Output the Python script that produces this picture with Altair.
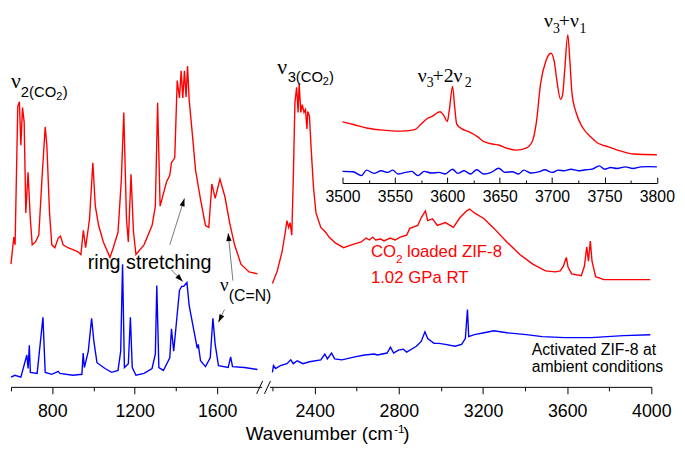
import math
import altair as alt
import pandas as pd

# ----------------------------- data -----------------------------
# wavenumber (cm-1) and intensity (arbitrary units, offset traces)
red_left_wn = [600, 614, 620, 633, 641, 648, 656, 664, 672, 683,
               693, 703, 719, 735, 750, 766, 774, 787, 798, 813,
               829, 840, 853, 876, 923, 939, 951, 962, 981, 997,
               1009, 1025, 1048, 1080, 1096, 1119, 1135, 1147, 1160, 1169,
               1182, 1194, 1206, 1245, 1284, 1300, 1311, 1323, 1339, 1354,
               1370, 1378, 1394, 1406, 1417, 1425, 1433, 1441, 1449, 1456,
               1464, 1480, 1495, 1519, 1543, 1559, 1574, 1590, 1613, 1637,
               1660, 1684, 1715, 1754, 1795]
red_left_int = [127, 155, 147, 290, 295, 250, 289, 274, 180, 222,
                177, 147, 150, 157, 214, 269, 250, 180, 147, 144,
                154, 156, 147, 144, 140, 137, 162, 144, 174, 232,
                187, 167, 150, 134, 144, 160, 214, 284, 174, 150,
                220, 160, 137, 147, 167, 187, 294, 187, 200, 212,
                219, 232, 237, 317, 299, 327, 299, 327, 300, 332,
                297, 260, 224, 194, 167, 165, 210, 195, 215, 197,
                170, 147, 127, 119, 117]

blue_left_wn = [600, 619, 648, 677, 683, 689, 694, 727, 755, 766,
                798, 829, 837, 900, 944, 950, 956, 975, 991, 1002,
                1017, 1056, 1088, 1119, 1132, 1141, 1150, 1169, 1179, 1188,
                1206, 1245, 1284, 1300, 1307, 1317, 1339, 1370, 1378, 1389,
                1401, 1417, 1428, 1437, 1453, 1464, 1488, 1503, 1508, 1519,
                1543, 1566, 1579, 1590, 1606, 1653, 1665, 1674, 1731, 1795]
blue_left_int = [10, 12, 10, 33, 19, 43, 15, 14, 72, 15,
                 13, 16, 14, 12, 13, 35, 20, 37, 71, 47,
                 25, 19, 15, 17, 37, 127, 20, 24, 72, 20,
                 12, 14, 19, 34, 105, 20, 17, 30, 60, 37,
                 64, 100, 104, 104, 108, 84, 57, 40, 44, 27,
                 21, 30, 71, 44, 22, 20, 31, 21, 20, 18]

red_right_wn = [2199, 2222, 2245, 2260, 2268, 2276, 2283, 2291, 2298, 2306,
                2314, 2321, 2326, 2334, 2341, 2349, 2356, 2363, 2367, 2375,
                2383, 2394, 2406, 2429, 2452, 2468, 2498, 2537, 2575, 2621,
                2644, 2660, 2675, 2690, 2713, 2729, 2759, 2782, 2806, 2837,
                2852, 2890, 2906, 2926, 2937, 2960, 2983, 3021, 3059, 3090,
                3121, 3136, 3159, 3205, 3252, 3313, 3375, 3436, 3497, 3544,
                3567, 3582, 3596, 3604, 3621, 3667, 3682, 3693, 3701, 3710,
                3718, 3735, 3774, 3867, 3995]
red_right_int = [107, 120, 140, 160, 172, 165, 170, 157, 214, 294,
                 310, 284, 314, 284, 292, 284, 287, 267, 285, 280,
                 247, 207, 180, 165, 160, 155, 149, 144, 147, 150,
                 154, 152, 155, 152, 153, 151, 154, 152, 155, 157,
                 164, 167, 175, 182, 172, 174, 167, 170, 165, 175,
                 182, 184, 180, 174, 164, 150, 137, 127, 120, 119,
                 120, 125, 134, 124, 117, 115, 125, 145, 130, 151,
                 130, 114, 111, 111, 111]

blue_right_wn = [2199, 2204, 2214, 2237, 2268, 2286, 2298, 2317, 2344, 2375,
                 2429, 2448, 2460, 2480, 2495, 2529, 2591, 2637, 2683, 2698,
                 2744, 2760, 2775, 2798, 2821, 2837, 2883, 2906, 2924, 2937,
                 2967, 2990, 3021, 3067, 3098, 3116, 3126, 3132, 3159, 3205,
                 3252, 3313, 3405, 3482, 3590, 3713, 3867, 3995]
blue_right_int = [15, 22, 19, 22, 24, 28, 24, 27, 24, 26,
                  28, 34, 29, 35, 29, 28, 31, 33, 34, 33,
                  35, 41, 35, 38, 39, 36, 42, 47, 57, 50,
                  45, 45, 44, 42, 44, 50, 80, 52, 54, 56,
                  58, 56, 54, 52, 51, 51, 53, 54]

inset_red_wn = [3500, 3512, 3524, 3536, 3555, 3569, 3575, 3580, 3586, 3593,
                3597, 3600, 3602, 3605, 3607, 3609, 3614, 3620, 3629, 3635,
                3645, 3649, 3655, 3666, 3675, 3681, 3685, 3689, 3694, 3699,
                3702, 3705, 3708, 3710, 3712, 3715, 3717, 3719, 3723, 3729,
                3737, 3743, 3748, 3753, 3765, 3778, 3800]
inset_red_int = [63.3, 60, 56.7, 55, 53.7, 55.3, 61, 66, 69.3, 73.7,
                 69.3, 63.7, 76, 100, 79.3, 61, 56, 53.3, 47.7, 42.7,
                 40, 39.3, 36.7, 34, 36, 42.7, 62.7, 102.7, 126, 134.3,
                 126, 102.7, 86.7, 91, 116, 153.3, 126, 92.7, 72.7, 57.7,
                 47.7, 41.7, 39.3, 37.7, 33.3, 30, 29.3]

inset_blue_wn = [3500, 3510, 3518, 3523, 3530, 3537, 3543, 3548, 3553, 3560,
                 3566, 3572, 3578, 3585, 3592, 3598, 3605, 3610, 3616, 3622,
                 3628, 3635, 3642, 3649, 3655, 3662, 3668, 3673, 3680, 3688,
                 3693, 3700, 3706, 3712, 3718, 3725, 3732, 3738, 3745, 3750,
                 3756, 3762, 3770, 3777, 3785, 3792, 3800]
inset_blue_int = [12, 11.7, 7.7, 13.3, 10, 12.7, 11, 13.3, 9.3, 11,
                  12, 7.7, 12, 10.3, 11, 9.3, 14.3, 10, 12.7, 9.3,
                  13.7, 9.3, 11, 15.3, 11, 11.7, 9.3, 13.3, 10.3, 11.7,
                  13.7, 11, 13.3, 12.7, 14.3, 12.7, 13.7, 14.3, 17.7, 14.3,
                  16, 15, 16.7, 15, 16.7, 17, 16.7]

left_ticks = [600, 800, 1000, 1200, 1400, 1600]
right_ticks = [2200, 2400, 2600, 2800, 3000, 3200, 3400, 3600, 3800, 4000]
inset_ticks = [3500, 3525, 3550, 3575, 3600, 3625, 3650, 3675, 3700, 3725, 3750, 3775, 3800]

# ----------------------------- layout / style -----------------------------
SANS = "Liberation Sans"
SERIF = "Liberation Serif"
RED = "#ff0000"
BLUE = "#0000ff"

WL, WR, H, GAP = 254, 387, 379, 8
XL_DOM = [600, 1815]
XR_DOM = [2185, 4000]
Y_DOM = [0, 387]
INSET_DOM = [3500, 3800]
INSET_RANGE = [74, 392.6]
INSET_AXIS_Y = 172.4
INSET_Y_DOM = [0, 176]

SX_L = WL / (XL_DOM[1] - XL_DOM[0])
SY = H / (Y_DOM[1] - Y_DOM[0])


def main_axis(values):
    return alt.Axis(
        orient="bottom", values=values, format="d",
        labelExpr="datum.value % 400 === 0 ? datum.label : ''",
        tickSize={"condition": {"test": "datum.value % 400 === 0", "value": 7}, "value": 4},
        tickColor="black", tickWidth=1, domainColor="black", domainWidth=1,
        labelFont=SANS, labelFontSize=18, labelColor="black", labelPadding=23,
        labelBaseline="alphabetic", labelFlush=False, labelOverlap=False,
        grid=False, title=None)


inset_axis = alt.Axis(
    orient="top", offset=-INSET_AXIS_Y, values=inset_ticks, format="d",
    labelExpr="datum.value % 50 === 0 ? datum.label : ''",
    tickSize={"condition": {"test": "datum.value % 50 === 0", "value": 6}, "value": 3},
    tickColor="black", tickWidth=1, domainColor="black", domainWidth=1,
    labelFont=SANS, labelFontSize=16, labelColor="black", labelPadding=-25,
    labelBaseline="alphabetic", labelFlush=False, labelOverlap=False,
    grid=False, title=None)

XL = alt.X("wn:Q", scale=alt.Scale(domain=XL_DOM, nice=False, zero=False), axis=main_axis(left_ticks))
XR = alt.X("wn:Q", scale=alt.Scale(domain=XR_DOM, nice=False, zero=False), axis=main_axis(right_ticks))
Y = alt.Y("I:Q", scale=alt.Scale(domain=Y_DOM, nice=False, zero=False), axis=None)
XI = alt.X("iw:Q", scale=alt.Scale(domain=INSET_DOM, range=INSET_RANGE, nice=False, zero=False), axis=inset_axis)
YI = alt.Y("J:Q", scale=alt.Scale(domain=INSET_Y_DOM, range=[INSET_AXIS_Y, 0], nice=False, zero=False), axis=None)


def line(wn, vals, color, x, y, xname="wn", yname="I", interp="linear"):
    d = pd.DataFrame({xname: wn, yname: vals})
    return alt.Chart(d).mark_line(color=color, strokeWidth=1.4, interpolate=interp).encode(x=x, y=y)


def seg(x, wn, inten, text, dx=0, dy=0, size=16, font=SANS, color="black", align="left"):
    d = pd.DataFrame({"wn": [wn], "I": [inten], "t": [text]})
    return alt.Chart(d).mark_text(
        align=align, baseline="alphabetic", dx=dx, dy=dy, fontSize=size,
        font=font, color=color).encode(x=x, y=Y, text="t:N")


# ----------------------------- left panel -----------------------------
left_layers = [
    line(red_left_wn, red_left_int, RED, XL, Y),
    line(blue_left_wn, blue_left_int, BLUE, XL, Y),
]

left_layers += [
    seg(XL, 600, 309, "ν", 0, 0, 22, SERIF),
    seg(XL, 600, 309, "2(CO", 10, 9, 15),
    seg(XL, 600, 309, "2", 46, 12, 11),
    seg(XL, 600, 309, ")", 52.5, 9, 15),
    seg(XL, 972, 122, "ring stretching", 0, 0, 20),
    seg(XL, 1613, 98.7, "ν", 0, 0, 19, SERIF),
    seg(XL, 1613, 98.7, "(C=N)", 9, 10, 16),
]

# annotation arrows: tail (wn, I) -> head (wn2, I2)
arrow_tail_wn = [1370, 1378, 1676, 1635]
arrow_tail_int = [147, 121, 110, 80]
arrow_head_wn = [1441, 1433, 1653, 1606]
arrow_head_int = [195, 109, 159, 67]
arr = pd.DataFrame({"wn": arrow_tail_wn, "I": arrow_tail_int,
                    "wn2": arrow_head_wn, "I2": arrow_head_int})
arr["ang"] = [
    (math.degrees(math.atan2((h - t) * SX_L, (hi - ti) * SY)) + 360) % 360
    for t, ti, h, hi in zip(arrow_tail_wn, arrow_tail_int, arrow_head_wn, arrow_head_int)
]
heads = arr[["wn2", "I2", "ang"]].rename(columns={"wn2": "wn", "I2": "I"})
left_layers += [
    alt.Chart(arr).mark_rule(color="#555555", strokeWidth=0.8).encode(
        x=XL, y=Y, x2=alt.X2("wn2:Q"), y2=alt.Y2("I2:Q")),
    alt.Chart(heads).mark_point(
        shape="M0,0L0.8,2.4L-0.8,2.4Z", filled=True, color="black", opacity=1, size=44,
        strokeWidth=0).encode(x=XL, y=Y, angle=alt.Angle("ang:Q", scale=None)),
]

# axis break marks
brk = pd.DataFrame({"wn": [1791, 1829], "I": [-7.2, -7.2], "wn2": [1820, 1858], "I2": [6.1, 6.1]})
left_layers.append(
    alt.Chart(brk).mark_rule(color="black", strokeWidth=1).encode(
        x=XL, y=Y, x2=alt.X2("wn2:Q"), y2=alt.Y2("I2:Q")))

left = alt.layer(*left_layers).properties(width=WL, height=H)

# ----------------------------- right panel -----------------------------
right_main_layers = [
    line(red_right_wn, red_right_int, RED, XR, Y),
    line(blue_right_wn, blue_right_int, BLUE, XR, Y),
    seg(XR, 2222, 324, "ν", 0, 0, 22, SERIF),
    seg(XR, 2222, 324, "3(CO", 10.5, 8, 15),
    seg(XR, 2222, 324, "2", 46, 11, 11),
    seg(XR, 2222, 324, ")", 52.5, 8, 15),
    seg(XR, 2890, 316, "ν", 0, 0, 20, SERIF),
    seg(XR, 2890, 316, "3", 9, 6, 14, SERIF),
    seg(XR, 2890, 316, "+2ν", 15, 0, 20, SERIF),
    seg(XR, 2890, 316, "2", 47.5, 6, 14, SERIF),
    seg(XR, 3490, 372, "ν", 0, 0, 20, SERIF),
    seg(XR, 3490, 372, "3", 9, 6, 14, SERIF),
    seg(XR, 3490, 372, "+ν", 15, 0, 20, SERIF),
    seg(XR, 3490, 372, "1", 36, 6, 14, SERIF),
    seg(XR, 2667, 134, "CO", 0, 0, 17, SANS, RED),
    seg(XR, 2667, 134, "2", 25.5, 6, 12, SANS, RED),
    seg(XR, 2667, 134, "loaded ZIF-8", 36.5, 0, 17, SANS, RED),
    seg(XR, 2667, 107, "1.02 GPa RT", 0, 0, 17, SANS, RED),
    seg(XR, 3431, 32.5, "Activated ZIF-8 at", 0, 0, 16),
    seg(XR, 3431, 15, "ambient conditions", 0, 0, 16),
    seg(XR, 2772, -55, "Wavenumber (cm", 0, 0, 19, align="right"),
    seg(XR, 2772, -55, "-1", 1, -7, 12),
    seg(XR, 2772, -55, ")", 10.5, 0, 19),
]
right_main = alt.layer(*right_main_layers)

inset = alt.layer(
    line(inset_red_wn, inset_red_int, RED, XI, YI, "iw", "J", "monotone"),
    line(inset_blue_wn, inset_blue_int, BLUE, XI, YI, "iw", "J", "monotone"),
)

right = alt.layer(right_main, inset).resolve_scale(
    x="independent", y="independent").properties(width=WR, height=H)

chart = alt.hconcat(left, right, spacing=GAP, bounds="flush").properties(
    padding={"left": 0, "top": 0, "right": 2, "bottom": 2}
).configure_view(stroke=None)

chart.save("out.html", embed_options={"renderer": "svg", "actions": False})
